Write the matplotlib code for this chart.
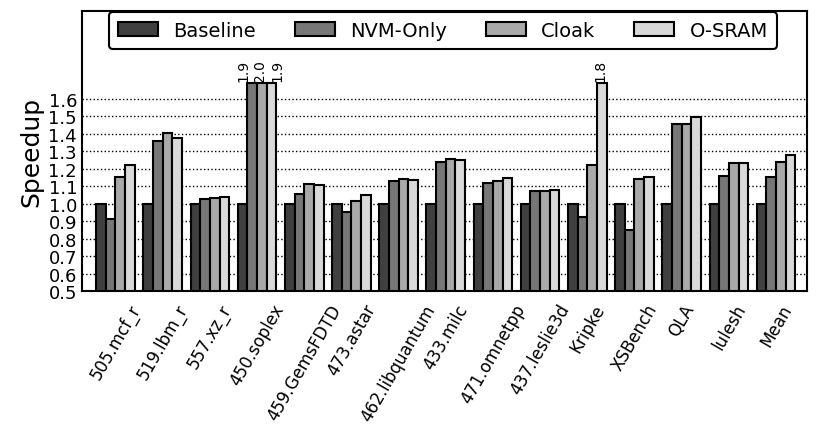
import numpy as np
import matplotlib
matplotlib.use("Agg")
import matplotlib.pyplot as plt

benchmarks = ["505.mcf_r", "519.lbm_r", "557.xz_r", "450.soplex", "459.GemsFDTD",
              "473.astar", "462.libquantum", "433.milc", "471.omnetpp", "437.leslie3d",
              "Kripke", "XSBench", "QLA", "lulesh", "Mean"]
series = ["Baseline", "NVM-Only", "Cloak", "O-SRAM"]
baseline = [1.0] * 15
nvm_only = [0.914, 1.358, 1.025, 1.9, 1.055, 0.949, 1.13, 1.24, 1.12, 1.069,
            0.924, 0.851, 1.453, 1.16, 1.15]
cloak = [1.152, 1.402, 1.032, 2.0, 1.112, 1.015, 1.141, 1.257, 1.127, 1.073,
         1.223, 1.141, 1.453, 1.23, 1.238]
osram = [1.219, 1.376, 1.038, 1.9, 1.107, 1.05, 1.135, 1.251, 1.145, 1.078,
         1.8, 1.154, 1.497, 1.234, 1.28]
colors = ["#404040", "#777777", "#a9a9a9", "#d9d9d9"]
clip = 1.69

plt.rcParams["font.family"] = "DejaVu Sans"
fig = plt.figure(figsize=(8.19, 4.31), dpi=100)
ax = fig.add_axes([0.1001, 0.3225, 0.8849, 0.6495])

x = np.arange(len(benchmarks))
w = 0.205
data = [baseline, nvm_only, cloak, osram]
for j, vals in enumerate(data):
    vals = np.array(vals)
    ax.bar(x + (j - 1.5) * w, np.minimum(vals, clip) - 0.5, w, bottom=0.5,
           color=colors[j], edgecolor="black", linewidth=1.5, label=series[j],
           zorder=3)

# labels for bars that run past the clip
for i in range(len(benchmarks)):
    over = [j for j in range(4) if data[j][i] > clip]
    n = len(over)
    for k, j in enumerate(over):
        dx = (k - (n - 1) / 2) * 5 - 1
        ax.annotate("%.1f" % data[j][i], (x[i] + (j - 1.5) * w, clip),
                    xytext=(dx, 1), textcoords="offset points",
                    rotation=90, ha="center", va="bottom", fontsize=10)

ax.set_xlim(-0.71, 14.65)
ax.set_ylim(0.5, 2.1)
ax.set_yticks(np.arange(0.5, 1.65, 0.1))
ax.set_yticklabels(["%.1f" % v for v in np.arange(0.5, 1.65, 0.1)], fontsize=13)
ax.set_xticks(x)
ax.set_xticklabels(benchmarks, rotation=60, fontsize=12)
ax.tick_params(axis="both", length=0)
ax.tick_params(axis="x", pad=7)
ax.yaxis.grid(True, linestyle=":", color="black", linewidth=1, zorder=0)
ax.set_axisbelow(True)
for s in ax.spines.values():
    s.set_linewidth(1.5)
ax.set_ylabel("Speedup", fontsize=18)

leg = ax.legend(loc="upper center", ncol=4, fontsize=14, frameon=True,
                fancybox=True, borderaxespad=0.05, handlelength=2.05,
                handleheight=0.75, handletextpad=0.8, columnspacing=2.0,
                borderpad=0.45, bbox_to_anchor=(0.498, 1.0))
leg.get_frame().set_edgecolor("black")
leg.get_frame().set_linewidth(1.5)
leg.get_frame().set_alpha(1)

fig.savefig("out.png", dpi=100)
